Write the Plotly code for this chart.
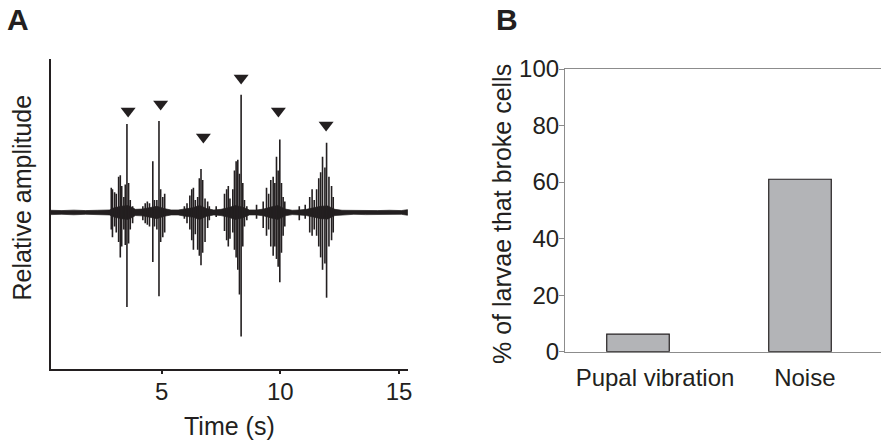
import plotly.graph_objects as go

# ---- panel A: recorded waveform (values read off the trace) ----
# background noise envelope (+/-)
noise_t = [0.32, 0.8, 1.3, 1.8, 2.3, 2.8, 3.0, 3.3, 3.6, 3.9, 4.2, 4.5, 4.8, 5.1,
           5.4, 5.7, 6.0, 6.3, 6.6, 6.9, 7.2, 7.5, 7.8, 8.1, 8.4, 8.7, 9.0, 9.3,
           9.6, 9.9, 10.2, 10.5, 10.8, 11.1, 11.4, 11.7, 12.0, 12.3, 12.6, 13.1,
           13.6, 14.1, 14.6, 15.1, 15.36]
noise_amp = [0.014, 0.012, 0.015, 0.012, 0.014, 0.016, 0.03, 0.04, 0.045, 0.02,
             0.022, 0.03, 0.04, 0.025, 0.016, 0.016, 0.025, 0.03, 0.045, 0.025,
             0.016, 0.02, 0.03, 0.045, 0.035, 0.016, 0.016, 0.022, 0.035, 0.045,
             0.022, 0.014, 0.016, 0.02, 0.03, 0.04, 0.042, 0.02, 0.014, 0.012,
             0.014, 0.012, 0.014, 0.012, 0.018]

# individual spikes: time, positive peak, negative peak
spike_t = [2.88, 2.93, 3.02, 3.09, 3.19, 3.26, 3.32, 3.41, 3.47, 3.54, 3.61, 3.68, 3.78,
           4.21, 4.31, 4.40, 4.49, 4.63, 4.70, 4.80, 4.89, 4.96, 5.05, 5.13,
           5.96, 6.07, 6.19, 6.27, 6.34, 6.42, 6.52, 6.59, 6.66, 6.73, 6.83, 6.94, 7.01,
           7.30,
           7.65, 7.74, 7.81, 7.88, 8.00, 8.07, 8.14, 8.21, 8.28, 8.35, 8.42, 8.49, 8.59,
           9.00, 9.28,
           9.42, 9.51, 9.60, 9.70, 9.77, 9.84, 9.91, 9.98, 10.05, 10.12, 10.19,
           10.80, 11.05,
           11.24, 11.34, 11.43, 11.53, 11.62, 11.70, 11.78, 11.88, 11.95, 12.05, 12.16, 12.23]
spike_hi = [0.16, 0.15, 0.13, 0.12, 0.23, 0.24, 0.17, 0.10, 0.18, 0.57, 0.19, 0.08, 0.04,
            0.04, 0.06, 0.07, 0.06, 0.33, 0.08, 0.08, 0.59, 0.15, 0.10, 0.12,
            0.04, 0.06, 0.11, 0.15, 0.16, 0.08, 0.10, 0.22, 0.28, 0.21, 0.09, 0.07, 0.04,
            0.04,
            0.12, 0.15, 0.17, 0.09, 0.15, 0.27, 0.33, 0.34, 0.25, 0.76, 0.19, 0.08, 0.04,
            0.05, 0.07,
            0.16, 0.12, 0.21, 0.23, 0.19, 0.36, 0.27, 0.47, 0.19, 0.10, 0.07,
            0.04, 0.05,
            0.10, 0.15, 0.08, 0.15, 0.22, 0.26, 0.36, 0.29, 0.45, 0.23, 0.17, 0.10]
spike_lo = [-0.11, -0.16, -0.09, -0.13, -0.19, -0.29, -0.22, -0.11, -0.21, -0.61, -0.20, -0.11, -0.07,
            -0.05, -0.07, -0.08, -0.09, -0.32, -0.09, -0.11, -0.54, -0.19, -0.16, -0.13,
            -0.04, -0.07, -0.11, -0.18, -0.24, -0.14, -0.24, -0.28, -0.34, -0.26, -0.19, -0.10, -0.05,
            -0.03,
            -0.12, -0.18, -0.22, -0.17, -0.13, -0.24, -0.29, -0.37, -0.53, -0.80, -0.22, -0.09, -0.05,
            -0.04, -0.10,
            -0.15, -0.11, -0.22, -0.28, -0.22, -0.30, -0.35, -0.45, -0.26, -0.15, -0.09,
            -0.05, -0.04,
            -0.13, -0.15, -0.11, -0.15, -0.22, -0.29, -0.37, -0.33, -0.55, -0.22, -0.18, -0.13]

# arrowheads marking the pupal pulses
arrow_t = [3.59, 4.96, 6.76, 8.35, 9.92, 11.93]
arrow_amp = [0.655, 0.70, 0.487, 0.868, 0.655, 0.565]

time_ticks = [5, 10, 15]

# ---- panel B ----
categories = ["Pupal vibration", "Noise"]
pct_broke = [6.2, 61.0]
pct_ticks = [0, 20, 40, 60, 80, 100]

INK = "#231f20"
GRAY_AX = "#8c8c8c"
FONT = "Liberation Sans, Arial, sans-serif"
W, H = 881, 443


def px(x):
    return x / W


def py(y):
    return 1 - y / H


sx, sy = [], []
for t, hi, lo in zip(spike_t, spike_hi, spike_lo):
    sx += [t, t, None]
    sy += [hi, lo, None]

bar_pos = list(range(len(categories)))
# labels in the original sit a little right of the bar centres
label_pos = [bar_pos[0] + 0.105, bar_pos[1] + 0.03]

fig = go.Figure()

fig.add_trace(go.Scatter(
    x=noise_t + noise_t[::-1],
    y=noise_amp + [-a for a in noise_amp[::-1]],
    fill="toself", fillcolor=INK, mode="lines",
    line=dict(color=INK, width=0.7),
    xaxis="x", yaxis="y", hoverinfo="skip", showlegend=False))

fig.add_trace(go.Scatter(
    x=sx, y=sy, mode="lines", line=dict(color=INK, width=1.6),
    xaxis="x", yaxis="y", showlegend=False))

fig.add_trace(go.Scatter(
    x=arrow_t, y=arrow_amp, mode="markers",
    marker=dict(symbol="triangle-down", size=13, color=INK),
    xaxis="x", yaxis="y", showlegend=False))

fig.add_trace(go.Bar(
    x=bar_pos, y=pct_broke, width=0.386, customdata=categories,
    hovertemplate="%{customdata}: %{y}%<extra></extra>",
    marker=dict(color="#b3b4b7", line=dict(color=INK, width=1.2)),
    xaxis="x2", yaxis="y2", showlegend=False))

fig.update_layout(
    width=W, height=H, autosize=False,
    margin=dict(l=0, r=0, t=0, b=0, pad=0),
    paper_bgcolor="white", plot_bgcolor="white",
    font=dict(family=FONT, color=INK, size=24),
    xaxis=dict(domain=[px(50.5), px(408)], range=[0.32, 15.38],
               showline=True, linecolor=INK, linewidth=1.5,
               ticks="outside", ticklen=3, tickwidth=1.5, tickcolor=INK,
               tickvals=time_ticks, showgrid=False, zeroline=False,
               ticklabelstandoff=-3,
               tickfont=dict(size=24), anchor="y", automargin=False),
    yaxis=dict(domain=[py(369), py(59)], range=[-1.01, 0.99],
               showline=True, linecolor=INK, linewidth=1.5,
               showticklabels=False, ticks="", showgrid=False,
               zeroline=False, anchor="x", automargin=False),
    xaxis2=dict(domain=[px(565), 1.0], range=[-0.4506, 1.5],
                showline=True, linecolor=GRAY_AX, linewidth=1.2, mirror=True,
                ticks="", showgrid=False, zeroline=False,
                tickvals=label_pos, ticktext=categories, ticklabelstandoff=4,
                tickfont=dict(size=24), anchor="y2", automargin=False),
    yaxis2=dict(domain=[py(351.7), py(69)], range=[0, 100],
                showline=True, linecolor=GRAY_AX, linewidth=1.2,
                ticks="outside", ticklen=5, tickcolor=GRAY_AX,
                tickvals=pct_ticks, showgrid=False, zeroline=False,
                ticklabelstandoff=-5,
                tickfont=dict(size=24), anchor="x2", automargin=False),
    annotations=[
        dict(text="<b>A</b>", x=px(18), y=py(19), xref="paper", yref="paper",
             showarrow=False, font=dict(size=30), xanchor="center", yanchor="middle"),
        dict(text="<b>B</b>", x=px(507), y=py(19), xref="paper", yref="paper",
             showarrow=False, font=dict(size=30), xanchor="center", yanchor="middle"),
        dict(text="Relative amplitude", x=px(22), y=py(197.5), xref="paper",
             yref="paper", showarrow=False, textangle=-90, font=dict(size=25),
             xanchor="center", yanchor="middle"),
        dict(text="Time (s)", x=px(229), y=py(426), xref="paper", yref="paper",
             showarrow=False, font=dict(size=25), xanchor="center", yanchor="middle"),
        dict(text="% of larvae that broke cells", x=px(502), y=py(214),
             xref="paper", yref="paper", showarrow=False, textangle=-90,
             font=dict(size=25), xanchor="center", yanchor="middle"),
    ],
)

fig.write_html("out.html", config={"displayModeBar": False},
               post_script="document.body.style.margin='0';"
                           "document.body.style.overflow='hidden';")
